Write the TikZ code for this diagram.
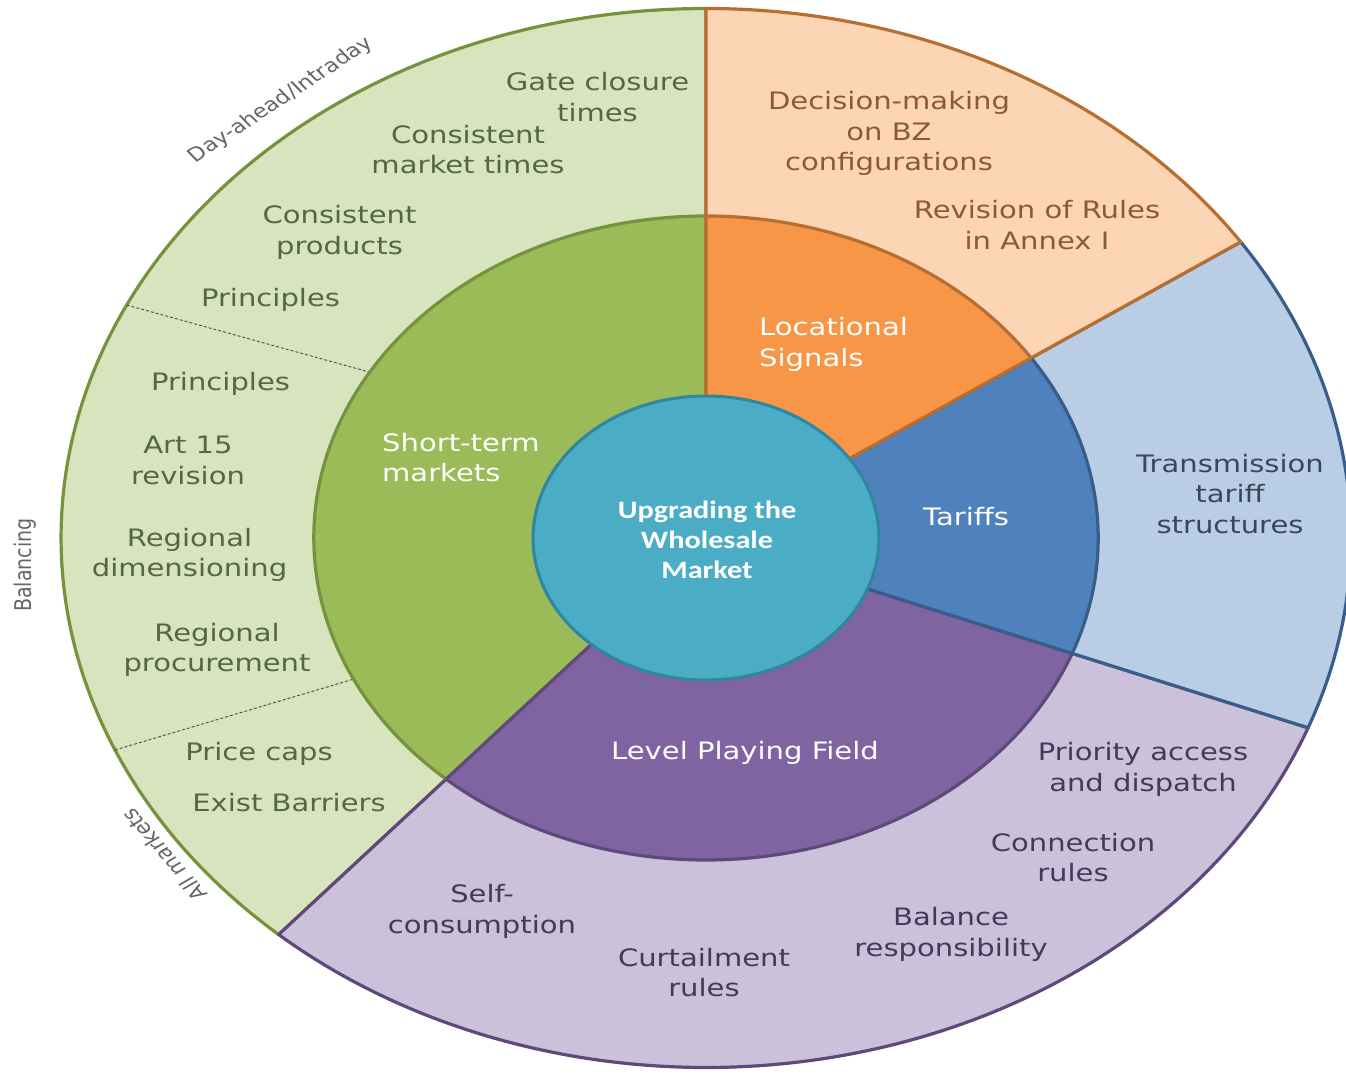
\documentclass[tikz,border=0pt]{standalone}
\usepackage{fontspec}
\setmainfont{DejaVu Sans}
\newfontfamily\centrefont{Carlito}
\usepackage{graphicx}
\newcommand{\sx}[1]{\scalebox{1.21}[1]{#1}}
\definecolor{gMid}{HTML}{9BBB59}
\definecolor{gOut}{HTML}{D7E4BD}
\definecolor{gDark}{HTML}{76923C}
\definecolor{gText}{HTML}{55673F}
\definecolor{oMid}{HTML}{F79646}
\definecolor{oOut}{HTML}{FCD5B5}
\definecolor{oDark}{HTML}{B86E30}
\definecolor{oText}{HTML}{8A5A33}
\definecolor{bMid}{HTML}{4F81BD}
\definecolor{bOut}{HTML}{B9CDE5}
\definecolor{bDark}{HTML}{385D8A}
\definecolor{bText}{HTML}{37475C}
\definecolor{pMid}{HTML}{8064A2}
\definecolor{pOut}{HTML}{CCC1DA}
\definecolor{pDark}{HTML}{5F497A}
\definecolor{pText}{HTML}{45395A}
\definecolor{cFill}{HTML}{4BACC6}
\definecolor{cDark}{HTML}{2F86A0}
\definecolor{lblGray}{HTML}{666666}
\begin{document}
\begin{tikzpicture}[x=1pt,y=-1pt,
  seg/.style={line width=3.2pt, line join=round},
  divider/.style={draw=black!70, line width=0.9pt, dash pattern=on 3pt off 2pt},
  txt/.style={align=center, inner sep=0pt, font=\fontsize{24}{30.5}\selectfont},
  gtxt/.style={txt, text=gText},
  otxt/.style={txt, text=oText},
  btxt/.style={txt, text=bText},
  ptxt/.style={txt, text=pText},
  wtxt/.style={txt, text=white},
  lbl/.style={inner sep=0pt, text=lblGray, font=\fontsize{19}{23}\selectfont},
  ctxt/.style={align=center, inner sep=0pt, text=white, font=\centrefont\bfseries\fontsize{25}{30}\selectfont}]
\useasboundingbox[fill=white] (0,0) rectangle (1346,1075);
\begin{scope}[shift={(706,538)}, xscale=1.218, yscale=-1]
  \coordinate (C) at (0,0);
  \def\Ro{529.5}\def\Rm{322}\def\Ri{142}
  % outer ring
  \filldraw[seg, fill=gOut, draw=gDark] (C) -- (90:\Ro) arc[start angle=90, end angle=228.5, radius=\Ro] -- cycle;
  \filldraw[seg, fill=pOut, draw=pDark] (C) -- (228.5:\Ro) arc[start angle=228.5, end angle=339, radius=\Ro] -- cycle;
  \filldraw[seg, fill=bOut, draw=bDark] (C) -- (-21:\Ro) arc[start angle=-21, end angle=34, radius=\Ro] -- cycle;
  \filldraw[seg, fill=oOut, draw=oDark] (C) -- (34:\Ro) arc[start angle=34, end angle=90, radius=\Ro] -- cycle;
  % dividers in the green ring
  \coordinate (d1a) at (153.9:\Ro);
  \coordinate (d1b) at (149:\Rm);
  \coordinate (d2a) at (203.6:\Ro);
  \coordinate (d2b) at (206:\Rm);
  \draw[divider] (d1a) -- (d1b);
  \draw[divider] (d2a) -- (d2b);
  % middle ring
  \filldraw[seg, fill=gMid, draw=gDark] (C) -- (90:\Rm) arc[start angle=90, end angle=228.5, radius=\Rm] -- cycle;
  \filldraw[seg, fill=pMid, draw=pDark] (C) -- (228.5:\Rm) arc[start angle=228.5, end angle=339, radius=\Rm] -- cycle;
  \filldraw[seg, fill=bMid, draw=bDark] (C) -- (-21:\Rm) arc[start angle=-21, end angle=34, radius=\Rm] -- cycle;
  \filldraw[seg, fill=oMid, draw=oDark] (C) -- (34:\Rm) arc[start angle=34, end angle=90, radius=\Rm] -- cycle;
  % centre
  \filldraw[fill=cFill, draw=cDark, line width=3pt] (C) circle[radius=\Ri];
\end{scope}
% centre text
\node[ctxt] (centre) at (707,540) {\sx{Upgrading the}\\\sx{Wholesale}\\\sx{Market}};
% middle ring texts
\node[wtxt, anchor=west, align=left] (short) at (382,457.5) {\sx{Short-term}\\\sx{markets}};
\node[wtxt, anchor=west, align=left] (loc) at (759,344.5) {\sx{Locational}\\\sx{Signals}};
\node[wtxt] (tariffs) at (966,517) {\sx{Tariffs}};
\node[wtxt] (lpf) at (745,753) {\sx{Level Playing Field}};
% outer green texts
\node[gtxt] (gate) at (597.5,97) {\sx{Gate closure}\\\sx{times}};
\node[gtxt] (cmt) at (468,149.5) {\sx{Consistent}\\\sx{market times}};
\node[gtxt] (cprod) at (339.5,232.5) {\sx{Consistent}\\\sx{products}};
\node[gtxt] (princ1) at (270.5,300) {\sx{Principles}};
\node[gtxt] (princ2) at (220.5,384) {\sx{Principles}};
\node[gtxt] (art) at (188,460.5) {\sx{Art 15}\\\sx{revision}};
\node[gtxt] (rdim) at (189.5,555) {\sx{Regional}\\\sx{dimensioning}};
\node[gtxt] (rproc) at (217,650) {\sx{Regional}\\\sx{procurement}};
\node[gtxt] (caps) at (259,754) {\sx{Price caps}};
\node[gtxt] (barr) at (289,803) {\sx{Exist Barriers}};
% outer orange texts
\node[otxt] (bz) at (889,133.5) {\sx{Decision-making}\\\sx{on BZ}\\\sx{configurations}};
\node[otxt] (annex) at (1037,225) {\sx{Revision of Rules}\\\sx{in Annex I}};
% outer blue text
\node[btxt] (trans) at (1230,494) {\sx{Transmission}\\\sx{tariff}\\\sx{structures}};
% outer purple texts
\node[ptxt] (prio) at (1143,769.5) {\sx{Priority access}\\\sx{and dispatch}};
\node[ptxt] (conn) at (1073,857.5) {\sx{Connection}\\\sx{rules}};
\node[ptxt] (bal) at (951,934.5) {\sx{Balance}\\\sx{responsibility}};
\node[ptxt] (curt) at (704,972.5) {\sx{Curtailment}\\\sx{rules}};
\node[ptxt] (self) at (482,911.5) {\sx{Self-}\\\sx{consumption}};
% outside labels
\node[lbl] (dayahead) at (281,100) {\sx{\rotatebox{38.6}{Day-ahead/Intraday}}};
\node[lbl] (balancing) at (25,565) {\sx{\rotatebox{90}{Balancing}}};
\node[lbl] (allm) at (164,855) {\sx{\rotatebox{125.4}{All markets}}};
\end{tikzpicture}
\end{document}
